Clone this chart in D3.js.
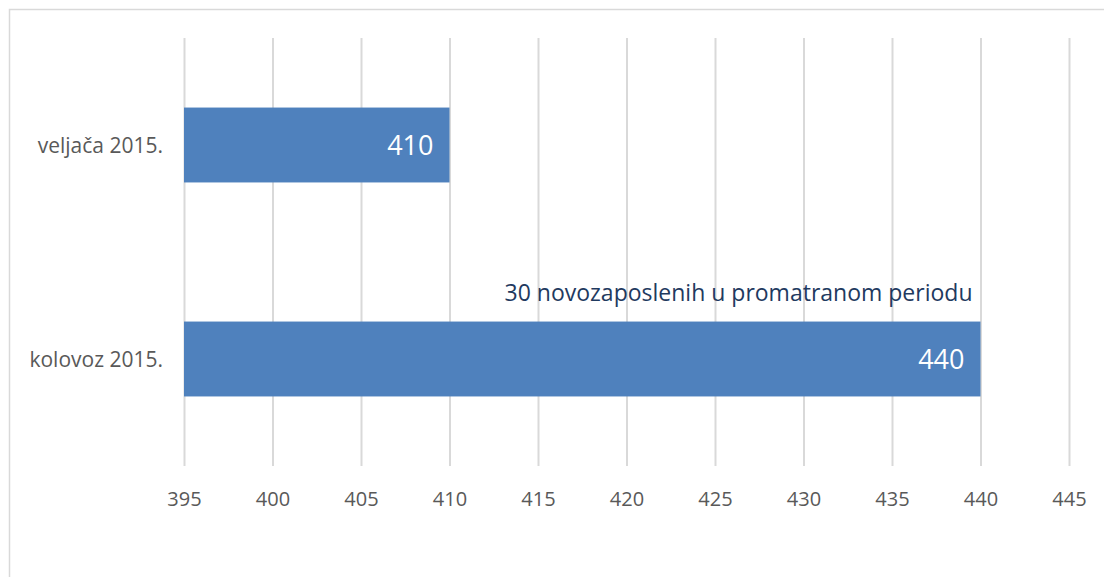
<!DOCTYPE html>
<html>
<head>
<meta charset="utf-8">
<script src="https://cdn.jsdelivr.net/npm/d3@7"></script>
<style>
  body { margin: 0; background: #fff; }
  text { font-family: "Open Sans", sans-serif; }
</style>
</head>
<body>
<div id="chart"></div>
<script>
const categories = ['veljača 2015.', 'kolovoz 2015.'];
const values = [410, 440];
const xTicks = [395, 400, 405, 410, 415, 420, 425, 430, 435, 440, 445];
const annotation = '30 novozaposlenih u promatranom periodu';

const width = 1104, height = 577;
const plotLeft = 184, plotRight = 1069, plotTop = 38, plotBottom = 466;

let svg = d3.select('#chart')
    .append('svg')
    .attr('width', width)
    .attr('height', height);

// chart frame
svg.append('rect')
    .attr('x', 9.5).attr('y', 9.5)
    .attr('width', width + 20).attr('height', height + 20)
    .attr('fill', 'none')
    .attr('stroke', '#d9d9d9')
    .attr('stroke-width', 1.5);

let xScale = d3.scaleLinear()
    .domain([395, 445])
    .range([plotLeft, plotRight]);

let yScale = d3.scaleBand()
    .domain(categories)
    .range([plotTop, plotBottom])
    .paddingInner(0.65)
    .paddingOuter(0.325);

// gridlines + tick labels through an axis
let axis = svg.append('g')
    .attr('transform', `translate(0,${plotBottom})`)
    .call(d3.axisBottom(xScale).tickValues(xTicks).tickSize(0));
axis.select('.domain').remove();
axis.selectAll('.tick line')
    .attr('y1', 0)
    .attr('y2', -(plotBottom - plotTop))
    .attr('stroke', '#d9d9d9')
    .attr('stroke-width', 2);
axis.selectAll('.tick text')
    .attr('y', 40)
    .attr('dy', 0)
    .attr('fill', '#595959')
    .style('font-size', '20px')
    .style('font-family', '"Open Sans", sans-serif');

svg.selectAll('.bar')
    .data(values)
    .enter()
    .append('rect')
    .attr('class', 'bar')
    .attr('x', xScale(395))
    .attr('y', (d, i) => yScale(categories[i]))
    .attr('width', d => xScale(d) - xScale(395))
    .attr('height', yScale.bandwidth())
    .attr('fill', '#4f81bd');

svg.selectAll('.val')
    .data(values)
    .enter()
    .append('text')
    .attr('class', 'val')
    .attr('x', d => xScale(d) - 16)
    .attr('y', (d, i) => yScale(categories[i]) + yScale.bandwidth() / 2)
    .attr('dy', '0.36em')
    .attr('text-anchor', 'end')
    .attr('fill', '#fff')
    .style('font-size', '27px')
    .text(d => d);

svg.selectAll('.cat')
    .data(categories)
    .enter()
    .append('text')
    .attr('class', 'cat')
    .attr('x', 163)
    .attr('y', d => yScale(d) + yScale.bandwidth() / 2)
    .attr('dy', '0.36em')
    .attr('text-anchor', 'end')
    .attr('fill', '#595959')
    .style('font-size', '21px')
    .text(d => d);

svg.append('text')
    .attr('x', xScale(values[1]) - 8)
    .attr('y', yScale(categories[1]) - 29)
    .attr('dy', '0.36em')
    .attr('text-anchor', 'end')
    .attr('fill', '#1f3a5f')
    .style('font-size', '23px')
    .text(annotation);
</script>
</body>
</html>
